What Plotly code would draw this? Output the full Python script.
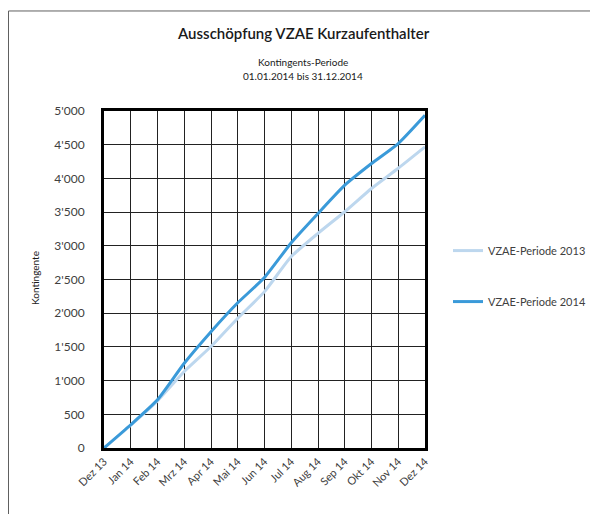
import plotly.graph_objects as go

months = ["Dez 13", "Jan 14", "Feb 14", "Mrz 14", "Apr 14", "Mai 14", "Jun 14",
          "Jul 14", "Aug 14", "Sep 14", "Okt 14", "Nov 14", "Dez 14"]
periode_2013 = [0, 340, 700, 1135, 1505, 1925, 2320, 2840, 3185, 3505, 3850, 4150, 4467]
periode_2014 = [0, 345, 715, 1257, 1725, 2154, 2530, 3045, 3480, 3900, 4221, 4517, 4936]
y_ticks = [0, 500, 1000, 1500, 2000, 2500, 3000, 3500, 4000, 4500, 5000]

# page body has an 8px margin: figure starts at window (8, 8)
OFF = 8
W, H = 598 - OFF, 514 - OFF
L, R, T, B = 104 - OFF, 425 - OFF, 110.7 - OFF, 448.3 - OFF
pw, ph = R - L, B - T

def px_x(x):
    # x given in window pixels
    return (x - OFF - L) / pw

def px_y(y):
    return (B - (y - OFF)) / ph

FONT = "Lato"

fig = go.Figure()
fig.add_trace(go.Scatter(x=months, y=periode_2013, mode="lines", name="VZAE-Periode 2013",
                         line=dict(color="#BDD7EE", width=3, shape="spline", smoothing=0.5),
                         legendgroup="a"))
fig.add_trace(go.Scatter(x=months, y=periode_2014, mode="lines", name="VZAE-Periode 2014",
                         line=dict(color="#3A9AD9", width=3, shape="spline", smoothing=0.5),
                         legendgroup="b"))

fig.update_layout(
    template="none",
    width=W, height=H, autosize=False,
    margin=dict(l=L, r=W - R, t=T, b=H - B, pad=0, autoexpand=False),
    paper_bgcolor="white", plot_bgcolor="white",
    separators=".'",
    font=dict(family=FONT, size=11, color="#404040"),
    showlegend=True,
    legend=dict(x=px_x(448), y=px_y(236), xanchor="left", yanchor="top",
                font=dict(family=FONT, size=11, color="#404040"),
                tracegroupgap=32, bgcolor="rgba(0,0,0,0)", borderwidth=0),
    xaxis=dict(type="category", range=[0, 12], tickangle=-45, automargin=False,
               showgrid=True, gridcolor="#222222", gridwidth=1,
               showline=True, linecolor="black", linewidth=3, mirror=True,
               ticks="", ticklabelstandoff=0,
               tickfont=dict(family=FONT, size=11, color="#404040"),
               fixedrange=True),
    yaxis=dict(range=[0, 5000], tickvals=y_ticks, tickformat=",d", automargin=False,
               showgrid=True, gridcolor="#222222", gridwidth=1,
               showline=True, linecolor="black", linewidth=3, mirror=True,
               ticks="", ticklabelstandoff=14,
               tickfont=dict(family=FONT, size=12, color="#404040"),
               zeroline=False, fixedrange=True),
    shapes=[dict(type="rect", xref="paper", yref="paper",
                 x0=px_x(8.5), x1=px_x(640), y0=px_y(560), y1=px_y(10.5),
                 line=dict(color="#606060", width=1), layer="below")],
    annotations=[
        dict(text="Ausschöpfung VZAE Kurzaufenthalter", xref="paper", yref="paper",
             x=px_x(303), y=px_y(33), xanchor="center", yanchor="middle", showarrow=False,
             font=dict(family=FONT, size=15, color="#1a1a1a", weight=600)),
        dict(text="Kontingents-Periode", xref="paper", yref="paper",
             x=px_x(303), y=px_y(62), xanchor="center", yanchor="middle", showarrow=False,
             font=dict(family=FONT, size=10, color="#1a1a1a")),
        dict(text="01.01.2014 bis 31.12.2014", xref="paper", yref="paper",
             x=px_x(303), y=px_y(76), xanchor="center", yanchor="middle", showarrow=False,
             font=dict(family=FONT, size=10, color="#1a1a1a")),
        dict(text="Kontingente", xref="paper", yref="paper", textangle=-90,
             x=px_x(35), y=px_y(278), xanchor="center", yanchor="middle", showarrow=False,
             font=dict(family=FONT, size=10, color="#1a1a1a")),
    ],
)

fig.write_html("out.html")
